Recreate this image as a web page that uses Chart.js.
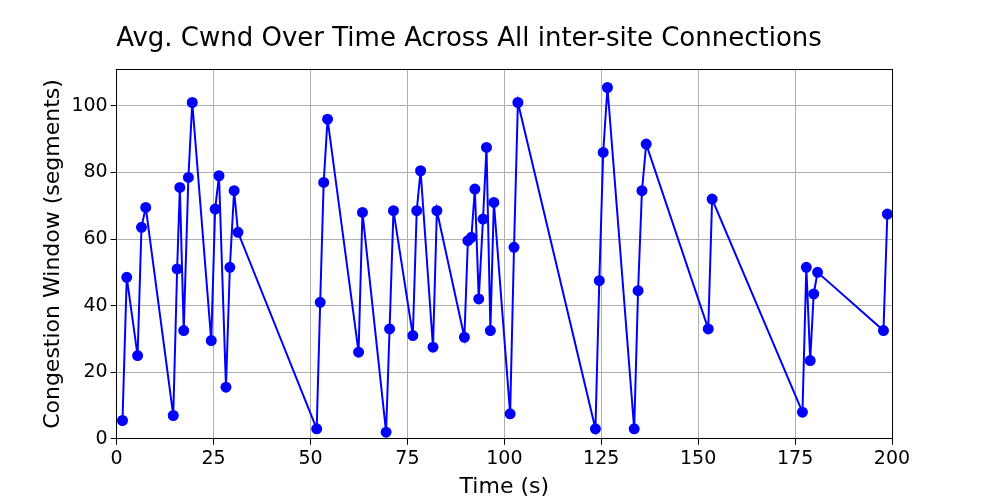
<!DOCTYPE html>
<html>
<head>
<meta charset="utf-8">
<script src="https://cdn.jsdelivr.net/npm/chart.js@4/dist/chart.umd.min.js"></script>
<style>
  html, body { margin: 0; padding: 0; background: #fff; }
  #wrap { width: 1000px; height: 500px; }
</style>
</head>
<body>
<div id="wrap"><canvas id="chart"></canvas></div>
<script>
// time (s) and average cwnd (segments)
const times = [1.5, 2.6, 5.4, 6.4, 7.5, 14.6, 15.6, 16.3, 17.3, 18.5, 19.5, 24.4, 25.4, 26.4, 28.2, 29.2, 30.3, 31.3,
  51.6, 52.5, 53.4, 54.4, 62.4, 63.4, 69.5, 70.4, 71.4, 76.4, 77.4, 78.4, 81.6, 82.6, 89.7, 90.6, 91.5, 92.4, 93.4,
  94.5, 95.4, 96.4, 97.3, 101.5, 102.5, 103.5, 123.5, 124.5, 125.5, 126.6, 133.5, 134.5, 135.5, 136.6, 152.6, 153.6,
  176.9, 177.9, 178.9, 179.8, 180.8, 197.8, 198.8];
const cwnd = [5.5, 48.5, 25, 63.5, 69.5, 7, 51, 75.5, 32.5, 78.5, 101, 29.5, 69, 79, 15.5, 51.5, 74.5, 62,
  3, 41, 77, 96, 26, 68, 2, 33, 68.5, 31, 68.5, 80.5, 27.5, 68.5, 30.5, 59.5, 60.5, 75, 42,
  66, 87.5, 32.5, 71, 7.5, 57.5, 101, 3, 47.5, 86, 105.5, 3, 44.5, 74.5, 88.5, 33, 72,
  8, 51.5, 23.5, 43.5, 50, 32.5, 67.5];

const points = times.map((t, i) => ({ x: t, y: cwnd[i] }));
const font = 'DejaVu Sans';

new Chart(document.getElementById('chart').getContext('2d'), {
  type: 'line',
  data: {
    datasets: [{
      data: points,
      borderColor: '#0000ff',
      backgroundColor: '#0000ff',
      borderWidth: 2,
      pointRadius: 4.5,
      pointHoverRadius: 4.5,
      tension: 0
    }]
  },
  options: {
    responsive: true,
    maintainAspectRatio: false,
    animation: false,
    layout: { padding: { left: 38, right: 100, top: 24, bottom: 0 } },
    plugins: {
      legend: { display: false },
      title: {
        display: true,
        text: 'Avg. Cwnd Over Time Across All inter-site Connections',
        color: '#000',
        font: { family: font, size: 26, weight: 'normal' },
        padding: { top: 0, bottom: 6 }
      }
    },
    scales: {
      x: {
        type: 'linear',
        min: 0, max: 200,
        ticks: { stepSize: 25, color: '#000', font: { family: font, size: 19 } },
        grid: { color: '#b0b0b0', tickColor: '#000', tickLength: 6 },
        border: { color: '#000' },
        title: { display: true, text: 'Time (s)', color: '#000', font: { family: font, size: 22 }, padding: 0 }
      },
      y: {
        min: 0, max: 111,
        afterBuildTicks: axis => { axis.ticks = axis.ticks.filter(t => t.value % 20 === 0); },
        ticks: { stepSize: 20, color: '#000', font: { family: font, size: 19 } },
        grid: { color: '#b0b0b0', tickColor: '#000', tickLength: 6 },
        border: { color: '#000' },
        title: { display: true, text: 'Congestion Window (segments)', color: '#000', font: { family: font, size: 22 }, padding: 2 }
      },
      x2: { position: 'top', type: 'linear', min: 0, max: 200, ticks: { display: false }, grid: { display: false }, border: { color: '#000' } },
      y2: { position: 'right', min: 0, max: 111, ticks: { display: false }, grid: { display: false }, border: { color: '#000' } }
    }
  }
});
</script>
</body>
</html>
